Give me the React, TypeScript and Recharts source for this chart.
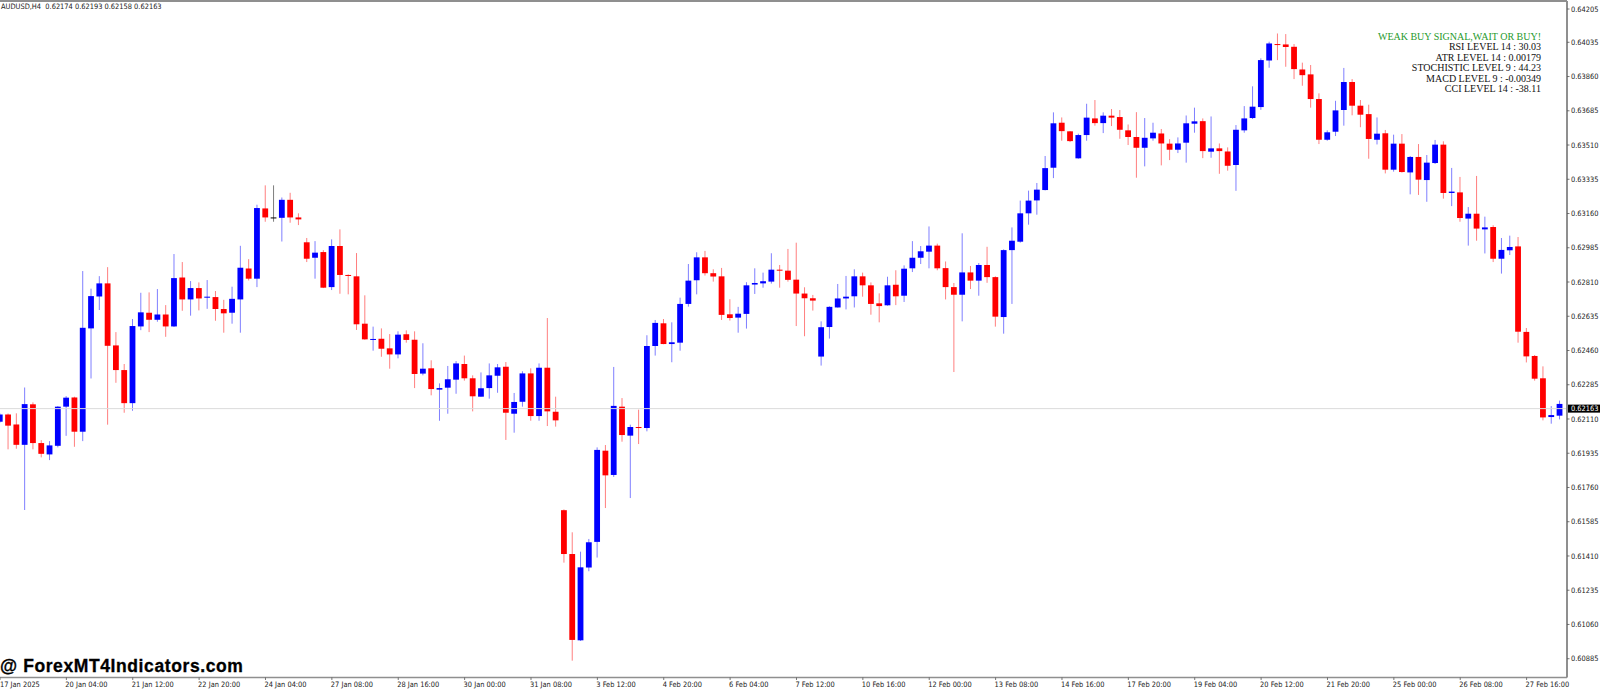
import { ComposedChart, Bar, XAxis, YAxis, ReferenceLine } from 'recharts'

// all prices are in MT4 points (1 point = 0.00001)
const OPENS = [
  62096, 62133, 62082, 61978, 62185, 61987, 61929, 61973, 62173, 62220,
  62045, 62573, 62736, 62803, 62486, 62360, 62191, 62583, 62653, 62617,
  62644, 62583, 62833, 62721, 62779, 62730, 62733, 62672, 62653, 62721,
  62879, 62827, 63186, 63140, 63138, 63230, 63140, 63013, 62934, 62963,
  62784, 62994, 62846, 62839, 62597, 62515, 62520, 62471, 62440, 62543,
  62515, 62342, 62369, 62260, 62270, 62311, 62391, 62318, 62224, 62268,
  62331, 62377, 62137, 62198, 62343, 62125, 62372, 62147, 61644, 61420,
  60979, 61351, 61482, 61948, 61824, 62173, 62025, 62069, 62064, 62483,
  62599, 62493, 62500, 62698, 62819, 62936, 62855, 62839, 62645, 62628,
  62647, 62797, 62803, 62812, 62873, 62868, 62822, 62751, 62727, 62429,
  62580, 62680, 62726, 62737, 62839, 62793, 62701, 62691, 62796, 62740,
  62880, 62934, 62965, 62996, 62881, 62784, 62745, 62859, 62817, 62897,
  62835, 62631, 62973, 63016, 63161, 63227, 63280, 63394, 63624, 63580,
  63442, 63561, 63646, 63622, 63660, 63653, 63585, 63551, 63496, 63544,
  63569, 63517, 63486, 63522, 63619, 63632, 63476, 63493, 63477, 63408,
  63585, 63648, 63704, 63942, 64026, 64024, 64012, 63896, 63871, 63745,
  63537, 63578, 63689, 63832, 63711, 63668, 63537, 63570, 63384, 63517,
  63370, 63449, 63331, 63418, 63512, 63265, 63268, 63134, 63159, 63079,
  63091, 62929, 62972, 62992, 62555, 62432, 62318, 62120, 62127,
]
const CLOSES = [
  62133, 62076, 61978, 62186, 61987, 61932, 61975, 62173, 62219, 62045,
  62576, 62738, 62803, 62484, 62360, 62191, 62585, 62655, 62617, 62644,
  62583, 62830, 62721, 62779, 62726, 62735, 62672, 62650, 62724, 62883,
  62827, 63188, 63140, 63140, 63230, 63140, 63130, 62929, 62960, 62781,
  62994, 62846, 62841, 62594, 62517, 62519, 62469, 62440, 62541, 62514,
  62340, 62367, 62263, 62268, 62313, 62394, 62318, 62226, 62267, 62333,
  62374, 62142, 62197, 62343, 62125, 62372, 62149, 62103, 61420, 60981,
  61352, 61480, 61952, 61822, 62177, 62028, 62069, 62064, 62483, 62601,
  62493, 62502, 62698, 62817, 62936, 62855, 62838, 62642, 62626, 62648,
  62793, 62805, 62814, 62873, 62868, 62821, 62751, 62727, 62715, 62579,
  62683, 62726, 62735, 62839, 62793, 62698, 62687, 62793, 62737, 62878,
  62934, 62967, 62996, 62880, 62784, 62745, 62859, 62817, 62897, 62835,
  62633, 62973, 63021, 63161, 63226, 63282, 63392, 63621, 63581, 63530,
  63561, 63650, 63622, 63660, 63650, 63588, 63551, 63496, 63547, 63573,
  63518, 63486, 63518, 63621, 63631, 63479, 63493, 63479, 63404, 63588,
  63646, 63706, 63944, 64029, 64021, 64011, 63898, 63867, 63745, 63537,
  63575, 63687, 63832, 63711, 63665, 63541, 63568, 63384, 63517, 63372,
  63449, 63333, 63420, 63512, 63265, 63272, 63137, 63159, 63083, 63089,
  62929, 62974, 62989, 62556, 62430, 62316, 62118, 62130, 62187,
]
const HIGHS = [
  62140, 62138, 62139, 62271, 62195, 62002, 61997, 62176, 62227, 62224,
  62866, 62776, 62840, 62886, 62554, 62391, 62621, 62755, 62757, 62774,
  62692, 62953, 62912, 62815, 62808, 62820, 62764, 62719, 62786, 62995,
  62927, 63205, 63304, 63304, 63242, 63266, 63161, 63035, 63019, 62973,
  63028, 63079, 62849, 62958, 62742, 62582, 62573, 62544, 62558, 62563,
  62558, 62497, 62410, 62292, 62381, 62406, 62434, 62333, 62348, 62394,
  62391, 62401, 62243, 62354, 62369, 62394, 62626, 62224, 61648, 61531,
  61432, 61497, 61965, 61977, 62376, 62217, 62081, 62158, 62538, 62616,
  62621, 62604, 62730, 62902, 62962, 62969, 62875, 62882, 62722, 62683,
  62809, 62880, 62858, 62957, 62897, 62979, 63011, 62783, 62744, 62609,
  62686, 62800, 62841, 62875, 62858, 62808, 62752, 62837, 62870, 62895,
  63019, 62994, 63094, 63006, 62915, 62805, 63059, 62892, 62907, 62990,
  62839, 62977, 63089, 63226, 63277, 63316, 63454, 63677, 63651, 63581,
  63568, 63721, 63740, 63677, 63694, 63689, 63615, 63678, 63648, 63624,
  63592, 63540, 63549, 63661, 63701, 63646, 63656, 63518, 63498, 63612,
  63709, 63810, 63953, 64038, 64080, 64077, 64026, 63931, 63919, 63774,
  63585, 63736, 63904, 63847, 63740, 63716, 63651, 63587, 63563, 63566,
  63454, 63515, 63459, 63536, 63529, 63393, 63347, 63193, 63352, 63144,
  63100, 63035, 63047, 63040, 62575, 62437, 62379, 62176, 62204,
]
const LOWS = [
  62090, 61955, 61958, 61645, 61955, 61914, 61900, 61965, 62024, 61968,
  61997, 62317, 62667, 62081, 62295, 62142, 62152, 62564, 62554, 62607,
  62530, 62580, 62663, 62638, 62665, 62673, 62612, 62551, 62597, 62551,
  62818, 62784, 63118, 63118, 63017, 63113, 63101, 62912, 62827, 62779,
  62769, 62750, 62747, 62565, 62515, 62459, 62428, 62367, 62420, 62500,
  62268, 62333, 62231, 62101, 62137, 62239, 62306, 62149, 62224, 62214,
  62244, 62003, 62040, 62173, 62101, 62101, 62074, 62071, 61376, 60875,
  60976, 61332, 61402, 61655, 61814, 61994, 61706, 61982, 62047, 62434,
  62492, 62400, 62459, 62684, 62747, 62843, 62812, 62616, 62613, 62551,
  62572, 62749, 62781, 62802, 62781, 62812, 62585, 62533, 62664, 62383,
  62521, 62679, 62670, 62680, 62735, 62643, 62604, 62689, 62692, 62708,
  62861, 62902, 62880, 62870, 62721, 62350, 62609, 62774, 62740, 62806,
  62582, 62546, 62698, 63011, 63103, 63154, 63278, 63341, 63532, 63525,
  63440, 63532, 63609, 63571, 63607, 63542, 63510, 63343, 63401, 63532,
  63406, 63433, 63469, 63420, 63573, 63443, 63445, 63363, 63379, 63276,
  63573, 63643, 63690, 63905, 63944, 63910, 63847, 63813, 63701, 63515,
  63532, 63556, 63609, 63662, 63601, 63440, 63513, 63365, 63374, 63369,
  63258, 63255, 63220, 63413, 63236, 63198, 63118, 62996, 63021, 62956,
  62912, 62853, 62948, 62500, 62399, 62306, 62103, 62086, 62108,
]

const DATE_LABELS = [
  '17 Jan 2025', '20 Jan 04:00', '21 Jan 12:00', '22 Jan 20:00', '24 Jan 04:00',
  '27 Jan 08:00', '28 Jan 16:00', '30 Jan 00:00', '31 Jan 08:00', '3 Feb 12:00',
  '4 Feb 20:00', '6 Feb 04:00', '7 Feb 12:00', '10 Feb 16:00', '12 Feb 00:00',
  '13 Feb 08:00', '14 Feb 16:00', '17 Feb 20:00', '19 Feb 04:00', '20 Feb 12:00',
  '21 Feb 20:00', '25 Feb 00:00', '26 Feb 08:00', '27 Feb 16:00',
]
const BARS_PER_LABEL = 8
const PRICE_TICKS = [
  64205, 64035, 63860, 63685, 63510, 63335, 63160, 62985, 62810, 62635,
  62460, 62285, 62110, 61935, 61760, 61585, 61410, 61235, 61060, 60885,
]
const LAST_PRICE = 62163
const INDICATOR_LINES = [
  'RSI LEVEL 14 : 30.03',
  'ATR LEVEL 14 : 0.00179',
  'STOCHISTIC LEVEL 9 : 44.23',
  'MACD LEVEL 9 : -0.00349',
  'CCI LEVEL 14 : -38.11',
]

const PRICE_MIN = 60789
const PRICE_MAX = 64246
const BAR_DOMAIN_MAX = 188.87
const AXIS_COLOR = '#8f8f8f'
const AXIS_FONT = { fontFamily: '"DejaVu Sans", sans-serif', fontSize: 7.4, fill: '#222' } as const

const data = OPENS.map((open, i) => ({
  index: i,
  open,
  close: CLOSES[i],
  high: HIGHS[i],
  low: LOWS[i],
}))
const dateTicks = DATE_LABELS.map((_, i) => i * BARS_PER_LABEL)

function Candle(props: any) {
  const { x, y, width, height, payload } = props
  const { open, close, high, low } = payload
  const perPoint = Math.abs(height) / (high - low)
  const top = y + (high - Math.max(open, close)) * perPoint
  const bodyH = Math.max(Math.abs(open - close) * perPoint, 1)
  const color = close > open ? '#0000ff' : close < open ? '#ff0000' : '#000000'
  return (
    <g>
      <rect x={x + width / 2 - 0.5} y={y} width={1} height={Math.abs(height)} fill={color} fillOpacity={0.5} />
      <rect x={x} y={top} width={width} height={bodyH} fill={color} />
    </g>
  )
}

function DateTick({ x, y, payload }: any) {
  return (
    <g>
      <line x1={x} x2={x} y1={y} y2={y + 2.5} stroke="#555" strokeWidth={0.8} />
      <text x={Math.max(x - 1, 0)} y={y + 9} {...AXIS_FONT} style={{ fontStretch: 'condensed' }}>
        {DATE_LABELS[payload.value / BARS_PER_LABEL]}
      </text>
    </g>
  )
}

function PriceTick({ x, y, payload }: any) {
  const label = (payload.value / 100000).toFixed(5)
  if (payload.value === LAST_PRICE) {
    return (
      <g>
        <rect x={x + 1} y={y - 4} width={32} height={8} fill="#000" />
        <text x={x + 4} y={y + 2.7} {...AXIS_FONT} fill="#fff" style={{ fontStretch: 'condensed' }}>{label}</text>
      </g>
    )
  }
  return (
    <g>
      <line x1={x} x2={x + 2.5} y1={y} y2={y} stroke="#555" strokeWidth={0.8} />
      <text x={x + 4} y={y + 2.7} {...AXIS_FONT} style={{ fontStretch: 'condensed' }}>{label}</text>
    </g>
  )
}

export default function App() {
  return (
    <div style={{ position: 'absolute', left: 0, top: 0, width: 1600, height: 689, background: '#fff', overflow: 'hidden' }}>
      <ComposedChart width={1600} height={689} data={data} margin={{ top: 1, right: 0, bottom: 0, left: 0 }}>
        <XAxis
          type="number"
          dataKey="index"
          domain={[0, BAR_DOMAIN_MAX]}
          allowDataOverflow
          ticks={dateTicks}
          interval={0}
          height={11.5}
          tickSize={0}
          tickMargin={0}
          tickLine={false}
          axisLine={{ stroke: AXIS_COLOR, strokeWidth: 1.5 }}
          tick={<DateTick />}
        />
        <YAxis
          orientation="right"
          type="number"
          domain={[PRICE_MIN, PRICE_MAX]}
          allowDataOverflow
          ticks={[...PRICE_TICKS, LAST_PRICE]}
          interval={0}
          width={33}
          tickSize={0}
          tickMargin={0}
          tickLine={false}
          axisLine={{ stroke: AXIS_COLOR, strokeWidth: 2 }}
          tick={<PriceTick />}
        />
        <ReferenceLine y={PRICE_MAX} stroke={AXIS_COLOR} strokeWidth={2} />
        <ReferenceLine y={LAST_PRICE} stroke="#dcdcdc" strokeWidth={1} />
        <Bar
          dataKey={(d: any) => [d.low, d.high]}
          barSize={5.8}
          shape={<Candle />}
          isAnimationActive={false}
        />
      </ComposedChart>

      <div style={{ position: 'absolute', left: 1, top: 1.5, fontFamily: '"DejaVu Sans", sans-serif', fontStretch: 'condensed', fontSize: 7.4, lineHeight: '10px', color: '#222', whiteSpace: 'pre' }}>
        {'AUDUSD,H4  0.62174 0.62193 0.62158 0.62163'}
      </div>

      <div style={{ position: 'absolute', right: 59, top: 32, textAlign: 'right', fontFamily: '"Liberation Serif", serif', fontSize: 10, lineHeight: '10.4px', color: '#111', whiteSpace: 'nowrap' }}>
        <div style={{ color: '#1f9a2b' }}>WEAK BUY SIGNAL,WAIT OR BUY!</div>
        {INDICATOR_LINES.map((line) => (
          <div key={line}>{line}</div>
        ))}
      </div>

      <div style={{ position: 'absolute', left: 0, top: 656, fontFamily: '"Liberation Sans", sans-serif', fontWeight: 700, fontSize: 17.5, letterSpacing: 0.6, lineHeight: '20px', color: '#000', whiteSpace: 'nowrap', WebkitTextStroke: '0.3px #000' }}>
        @ ForexMT4Indicators.com
      </div>
    </div>
  )
}
